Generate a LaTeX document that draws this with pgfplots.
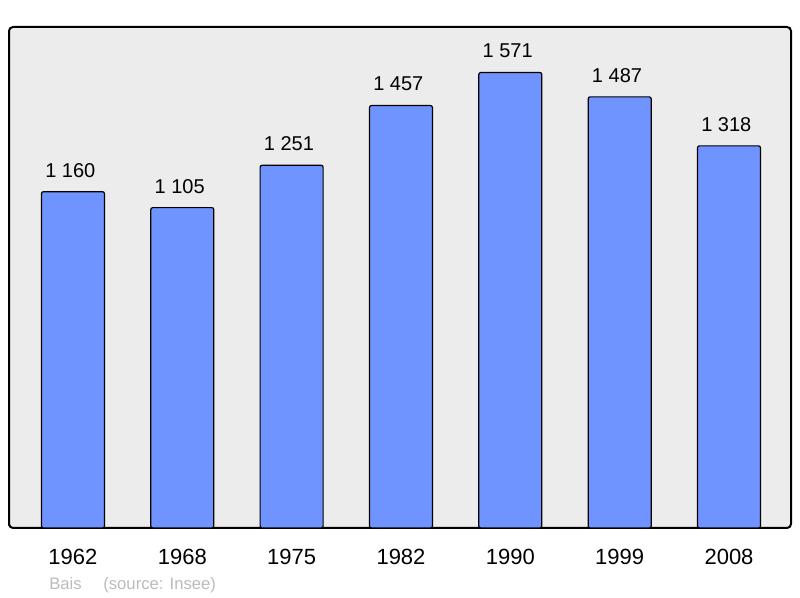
\documentclass[border=0pt]{standalone}
\usepackage{pgfplots}
\pgfplotsset{compat=1.18}
\usepackage{fontspec}
\setmainfont{Liberation Sans}
\definecolor{barblue}{HTML}{7094FF}
\definecolor{bggray}{HTML}{ECECEC}
\definecolor{srcgray}{HTML}{BBBBBB}
\begin{document}
\begin{tikzpicture}[x=1pt,y=1pt]
\path[use as bounding box] (0,0) rectangle (600,448.5);
\begin{axis}[
  at={(6.75pt,52.5pt)}, anchor=south west,
  scale only axis, width=586.5pt, height=375.75pt,
  xmin=-0.585, xmax=6.567, ymin=0, ymax=1728,
  axis background/.style={fill=bggray, rounded corners=3pt},
  axis line style={line width=1.5pt, rounded corners=3pt},
  xtick={0,1,2,3,4,5,6},
  xticklabels={1962,1968,1975,1982,1990,1999,2008},
  ytick=\empty,
  major tick length=0pt,
  xticklabel style={font=\fontsize{16.5}{18}\selectfont, yshift=-12pt},
  ybar, bar width=47.25pt,
  /pgf/number format/assume math mode=true,
  nodes near coords={\pgfmathprintnumber[1000 sep={\ }]{\pgfplotspointmeta}},
  nodes near coords style={font=\fontsize{15}{17}\selectfont, yshift=7pt, xshift=-2pt},
  clip=false,
]
\addplot[fill=barblue, draw=black, line width=0.9pt, rounded corners=1.5pt] coordinates {
  (0,1160) (1,1105) (2,1251) (3,1457) (4,1571) (5,1487) (6,1318)
};
\end{axis}
\node[anchor=base west, text=srcgray, font=\fontsize{12.5}{14}\selectfont, inner sep=0pt] at (36.75pt,6pt) {Bais\hspace{1.3em}(source: Insee)};
\end{tikzpicture}
\end{document}
